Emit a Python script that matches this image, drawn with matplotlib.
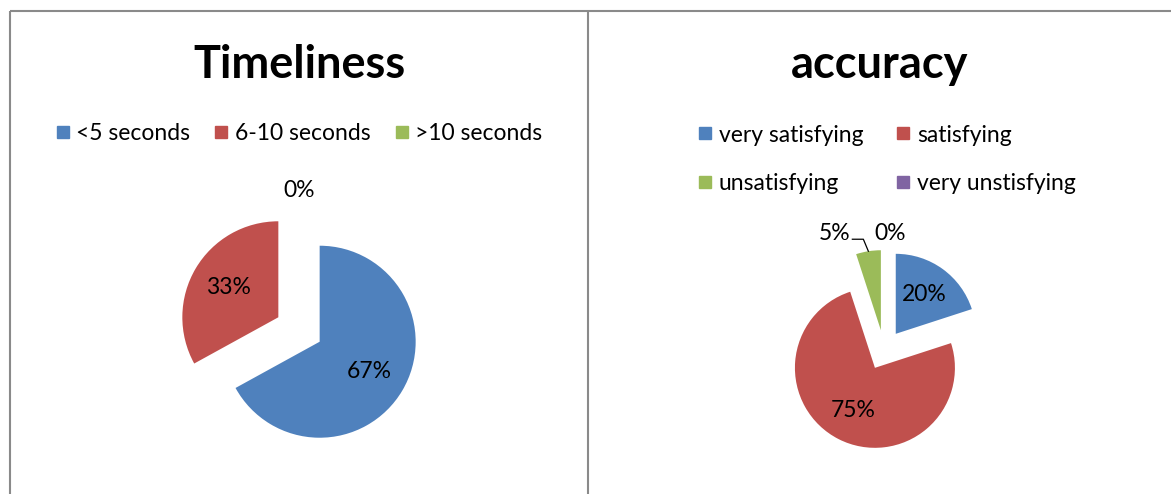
import numpy as np
import matplotlib
matplotlib.use("Agg")
import matplotlib.pyplot as plt
from matplotlib.lines import Line2D

plt.rcParams['font.family'] = ['Lato', 'DejaVu Sans']

# ---- data ----
time_labels = ['<5 seconds', '6-10 seconds', '>10 seconds']
time_values = [67, 33, 0]

acc_labels = ['very satisfying', 'satisfying', 'unsatisfying', 'very unstisfying']
acc_values = [20, 75, 5, 0]

colors = ['#4F81BD', '#C0504D', '#9BBB59', '#8064A2']

W, H = 1171, 494
fig = plt.figure(figsize=(W / 100, H / 100), dpi=100)
ax = fig.add_axes([0, 0, 1, 1])
ax.set_xlim(0, W)
ax.set_ylim(0, H)
ax.set_aspect('equal')
ax.axis('off')

# panel frames
frame_kw = dict(color='#8a8a8a', lw=1.5, solid_capstyle='butt')
ax.plot([9.5, W], [H - 11.5, H - 11.5], **frame_kw)
ax.plot([9.5, 9.5], [0, H - 11.5], **frame_kw)
ax.plot([587.5, 587.5], [0, H - 11.5], **frame_kw)

TITLE_FS = 32.5
TEXT_FS = 16.5


def pct(v):
    return '%.0f%%' % v


def draw_pie(values, cx, cy, r):
    explode = [0.25 * r] * len(values)
    wedges, _, autotexts = ax.pie(
        values, colors=colors[:len(values)], startangle=90, counterclock=False,
        radius=r, center=(cx, cy), explode=explode, autopct=pct,
        pctdistance=0.6, textprops=dict(fontsize=TEXT_FS, color='black'),
        wedgeprops=dict(linewidth=0), frame=True)
    return wedges, autotexts


def mid_angle(w):
    return np.deg2rad(0.5 * (w.theta1 + w.theta2))


def square_handles(cols):
    return [Line2D([], [], ls='', marker='s', ms=8, mfc=c, mec=c) for c in cols]


# ---- Timeliness ----
ax.text(299, H - 78, 'Timeliness', ha='center', va='baseline',
        fontsize=TITLE_FS, fontweight='bold')
w1, t1 = draw_pie(time_values, 299, H - 329.5, 96)
for w, t, v in zip(w1, t1, time_values):
    if v == 0:
        a = mid_angle(w)
        x0, y0 = w.center
        t.set_position((x0 + 1.2 * w.r * np.cos(a), y0 + 1.2 * w.r * np.sin(a)))

leg1 = ax.legend(square_handles(colors[:3]), time_labels, loc='center',
                 bbox_to_anchor=(299, H - 134), bbox_transform=ax.transData,
                 ncol=3, frameon=False, fontsize=TEXT_FS, handlelength=0.6,
                 handletextpad=0.3, columnspacing=1.05, borderpad=0)
ax.add_artist(leg1)

# ---- accuracy ----
ax.text(880, H - 78, 'accuracy', ha='center', va='baseline',
        fontsize=TITLE_FS, fontweight='bold')
w2, t2 = draw_pie(acc_values, 884, H - 350, 80)
for w, t, v in zip(w2, t2, acc_values):
    a = mid_angle(w)
    x0, y0 = w.center
    if v == 0:
        t.set_position((x0 + 6 + 1.2 * w.r * np.cos(a), y0 + 1.2 * w.r * np.sin(a)))
    elif v < 10:
        ex, ey = x0 + w.r * np.cos(a), y0 + w.r * np.sin(a)
        bx, by = ex - 5, ey + 12
        lx = bx - 11
        ax.plot([ex, bx, lx], [ey, by, by], color='black', lw=0.9)
        t.set_position((lx - 2, by + 6))
        t.set_ha('right')

# legend entries read row by row in a two-column layout
order = [0, 2, 1, 3]
h2 = square_handles(colors)
ax.legend([h2[i] for i in order], [acc_labels[i] for i in order], loc='center',
          bbox_to_anchor=(887, H - 159.5), bbox_transform=ax.transData,
          ncol=2, frameon=False, fontsize=TEXT_FS, handlelength=0.6,
          handletextpad=0.3, columnspacing=1.43, labelspacing=1.22, borderpad=0)

ax.set_xlim(0, W)
ax.set_ylim(0, H)
ax.axis('off')
fig.savefig('out.png', dpi=100)
